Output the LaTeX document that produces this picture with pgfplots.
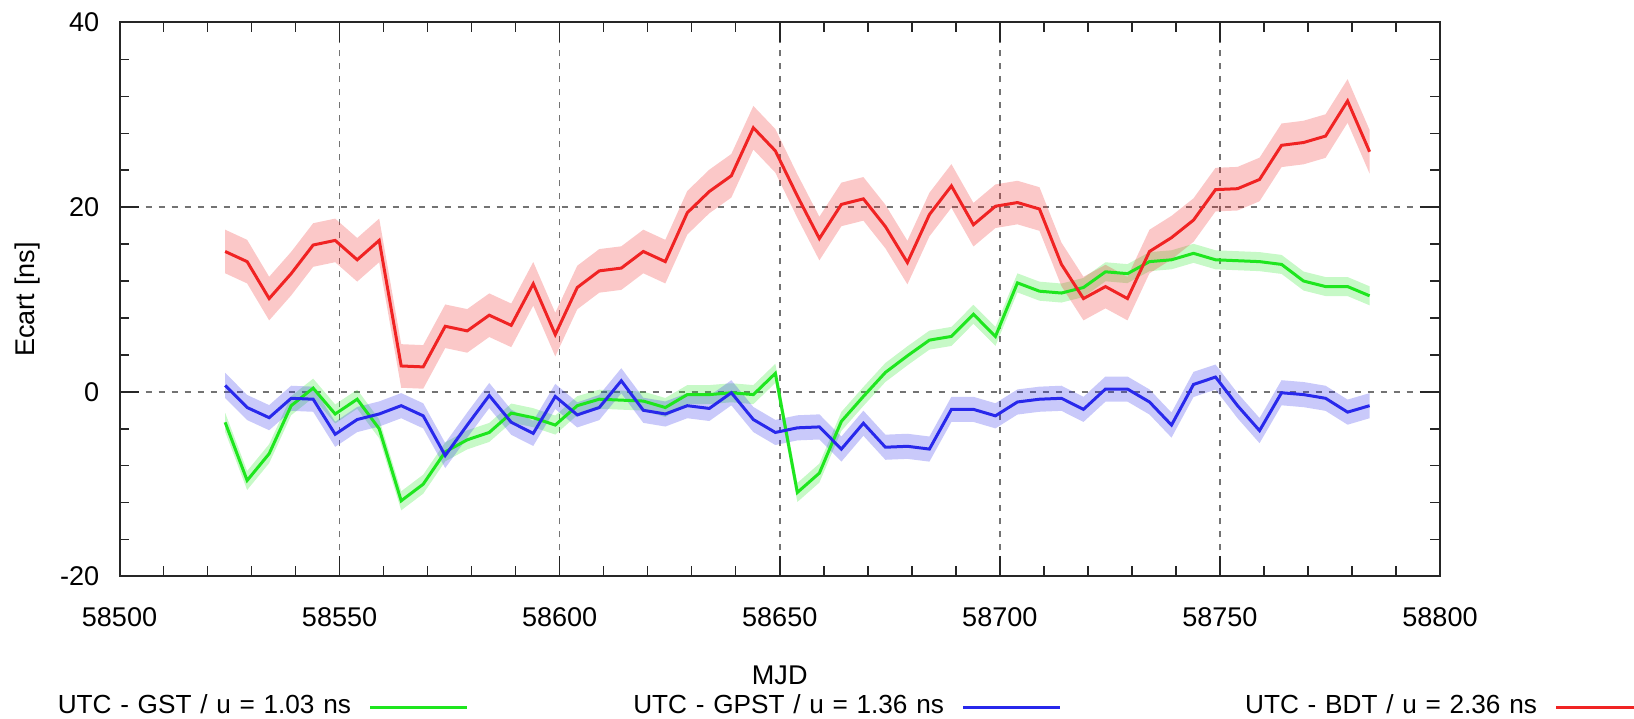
\documentclass[border=0pt]{standalone}
\usepackage{fontspec}
\setmainfont{Liberation Sans}
\usepackage{pgfplots}
\pgfplotsset{compat=1.18}
\usepgfplotslibrary{fillbetween}
\usepackage{pgfplotstable}

\definecolor{gstc}{RGB}{30,230,30}
\definecolor{gpstc}{RGB}{40,40,235}
\definecolor{bdtc}{RGB}{240,35,35}

\pgfplotstableread{
x g b r
58524 -3.3 0.7 15.2
58529 -9.6 -1.7 14.1
58534 -6.7 -2.8 10.1
58539 -1.5 -0.7 12.8
58544 0.4 -0.8 15.9
58549 -2.4 -4.6 16.4
58554 -0.8 -3.0 14.3
58559 -4.0 -2.4 16.4
58564 -11.8 -1.5 2.8
58569 -10.0 -2.6 2.7
58574 -6.5 -6.9 7.1
58579 -5.2 -3.6 6.6
58584 -4.4 -0.4 8.3
58589 -2.3 -3.3 7.2
58594 -2.8 -4.5 11.7
58599 -3.6 -0.5 6.2
58604 -1.5 -2.5 11.3
58609 -0.8 -1.7 13.1
58614 -0.9 1.2 13.4
58619 -1.0 -2.0 15.2
58624 -1.7 -2.4 14.1
58629 -0.3 -1.5 19.4
58634 -0.3 -1.8 21.7
58639 -0.1 -0.1 23.4
58644 -0.3 -3.0 28.6
58649 2.0 -4.4 26.1
58654 -10.9 -3.9 21.2
58659 -8.8 -3.8 16.6
58664 -3.2 -6.2 20.3
58669 -0.5 -3.4 20.9
58674 2.1 -6.0 17.9
58679 3.9 -5.9 14.0
58684 5.6 -6.2 19.2
58689 6.0 -1.9 22.3
58694 8.4 -1.9 18.1
58699 6.0 -2.6 20.1
58704 11.8 -1.1 20.5
58709 10.9 -0.8 19.8
58714 10.7 -0.7 13.8
58719 11.3 -1.9 10.1
58724 13.0 0.3 11.4
58729 12.8 0.3 10.1
58734 14.1 -1.1 15.2
58739 14.3 -3.6 16.7
58744 15.0 0.8 18.6
58749 14.3 1.6 21.9
58754 14.2 -1.5 22.0
58759 14.1 -4.2 23.0
58764 13.8 -0.1 26.7
58769 12.0 -0.3 27.0
58774 11.4 -0.7 27.7
58779 11.4 -2.2 31.5
58784 10.4 -1.5 26.0
}\data

\begin{document}
\begin{tikzpicture}[font=\fontsize{7.7}{9.2}\selectfont]
\begin{axis}[
  name=ax,
  scale only axis,
  width=132.05mm, height=55.4mm,
  xmin=58500, xmax=58800, ymin=-20, ymax=40,
  scaled x ticks=false, scaled y ticks=false,
  xtick={58500,58550,58600,58650,58700,58750,58800},
  xticklabels={58500,58550,58600,58650,58700,58750,58800},
  ytick={-20,0,20,40},
  yticklabels={-20,0,20,40},
  minor x tick num=4, minor y tick num=4,
  tick align=inside, xtick pos=both, ytick pos=both,
  major tick length=2mm, minor tick length=1mm,
  tick style={line width=0.15mm, black!85},
  axis line style={line width=0.2mm, black!85},
  grid=major,
  major grid style={dash pattern=on 0.6mm off 0.7mm, black!55, line width=0.15mm},
  xticklabel style={inner sep=0pt, anchor=north, yshift=-3.0mm},
  yticklabel style={inner sep=0pt, anchor=east, xshift=-1.95mm},
  every axis x label/.style={at={(axis description cs:0.5,-0.178)}, anchor=center},
  every axis y label/.style={at={(axis description cs:-0.070,0.5)}, rotate=90, anchor=center},
  xlabel={MJD},
  ylabel={Ecart [ns]},
  legend plot pos=right,
  legend columns=3,
  legend image code/.code={\draw[#1, line width=0.3mm] (0mm,0mm) -- (9.7mm,0mm);},
  legend style={
    at={(axis description cs:-0.0822,-0.2356)}, anchor=west,
    draw=none, fill=none, inner sep=0pt, outer sep=0pt,
    font=\fontsize{7.45}{9}\selectfont,
    nodes={inner sep=0pt, text width=34mm, align=right},
    /tikz/every odd column/.append style={column sep=1.8mm},
    /tikz/every even column/.append style={column sep=13.5mm},
  },
]
% GST
\addplot[name path=gU, draw=none, forget plot] table[x=x, y expr=\thisrow{g}+1.03] {\data};
\addplot[name path=gL, draw=none, forget plot] table[x=x, y expr=\thisrow{g}-1.03] {\data};
\addplot[fill=gstc, fill opacity=0.25, draw=none, forget plot] fill between[of=gU and gL];
\addplot[gstc, line width=0.3mm] table[x=x, y=g] {\data};
\addlegendentry{UTC - GST / u = 1.03 ns}
% GPST
\addplot[name path=bU, draw=none, forget plot] table[x=x, y expr=\thisrow{b}+1.36] {\data};
\addplot[name path=bL, draw=none, forget plot] table[x=x, y expr=\thisrow{b}-1.36] {\data};
\addplot[fill=gpstc, fill opacity=0.25, draw=none, forget plot] fill between[of=bU and bL];
\addplot[gpstc, line width=0.3mm] table[x=x, y=b] {\data};
\addlegendentry{UTC - GPST / u = 1.36 ns}
% BDT
\addplot[name path=rU, draw=none, forget plot] table[x=x, y expr=\thisrow{r}+2.36] {\data};
\addplot[name path=rL, draw=none, forget plot] table[x=x, y expr=\thisrow{r}-2.36] {\data};
\addplot[fill=bdtc, fill opacity=0.25, draw=none, forget plot] fill between[of=rU and rL];
\addplot[bdtc, line width=0.3mm] table[x=x, y=r] {\data};
\addlegendentry{UTC - BDT / u = 2.36 ns}
\end{axis}
\pgfresetboundingbox
\path[use as bounding box] ([xshift=-11.95mm, yshift=-14.25mm]ax.south west) rectangle ([xshift=19.4mm, yshift=2.25mm]ax.north east);
\end{tikzpicture}
\end{document}
